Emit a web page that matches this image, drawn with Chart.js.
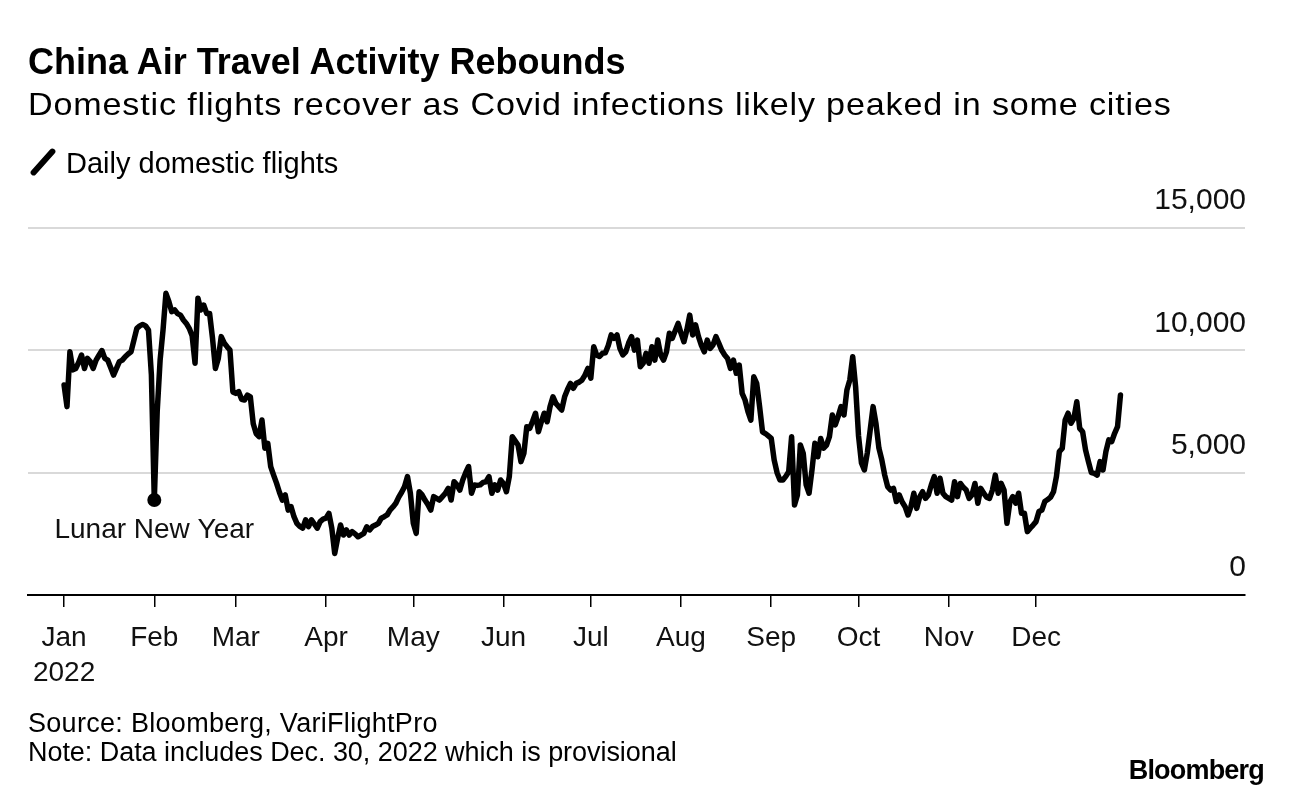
<!DOCTYPE html>
<html>
<head>
<meta charset="utf-8">
<script src="https://cdn.jsdelivr.net/npm/chart.js@4.4.1/dist/chart.umd.min.js"></script>
<style>
  html, body { margin: 0; padding: 0; background: #fff; }
  body { width: 1292px; height: 794px; position: relative; overflow: hidden;
         font-family: "Liberation Sans", Arial, sans-serif; color: #000; }
  #c { position: absolute; left: 0; top: 0; }
  .t { position: absolute; white-space: nowrap; line-height: 1; }
  #title { left: 28px; top: 44px; font-size: 36px; font-weight: bold; letter-spacing: 0; }
  #subtitle { left: 28px; top: 88px; font-size: 32px; letter-spacing: 0.8px;
              transform: scaleX(1.065); transform-origin: 0 50%; }
  #legend { left: 66px; top: 149px; font-size: 29px; }
  #legicon { position: absolute; left: 40px; top: 145px; width: 6px; height: 34px; background: #000;
             border-radius: 3px; transform: rotate(42deg); }
  #source { left: 28px; top: 710px; font-size: 27px; letter-spacing: 0.3px; }
  #note { left: 28px; top: 739px; font-size: 27px; letter-spacing: -0.05px; }
  #logo { right: 28px; top: 757px; font-size: 27px; font-weight: bold; letter-spacing: -0.8px; }
</style>
</head>
<body>
<canvas id="c" width="1292" height="794"></canvas>
<div class="t" id="title">China Air Travel Activity Rebounds</div>
<div class="t" id="subtitle">Domestic flights recover as Covid infections likely peaked in some cities</div>
<div id="legicon"></div>
<div class="t" id="legend">Daily domestic flights</div>
<div class="t" id="source">Source: Bloomberg, VariFlightPro</div>
<div class="t" id="note">Note: Data includes Dec. 30, 2022 which is provisional</div>
<div class="t" id="logo">Bloomberg</div>
<script>
// ---- data (day 0 = Jan 1, 2022; last value = Dec 30, 2022) ----
const monthTickDays = [0, 31, 59, 90, 120, 151, 181, 212, 243, 273, 304, 334];
const monthLabels = ['Jan', 'Feb', 'Mar', 'Apr', 'May', 'Jun', 'Jul', 'Aug', 'Sep', 'Oct', 'Nov', 'Dec'];
const yearLabel = '2022';
const yTickValues = [0, 5000, 10000, 15000];
const lunarNewYearDay = 31;
const lunarNewYearLabel = 'Lunar New Year';
const dailyFlights = [
  8580, 7700, 9940, 9200, 9260, 9500, 9810, 9260, 9670, 9540,
  9260, 9600, 9800, 9990, 9670, 9600, 9300, 8990, 9260, 9540,
  9600, 9740, 9850, 9940, 10420, 10900, 11000, 11060, 11000, 10830,
  9000, 3880, 7500, 9600, 10830, 12330, 12000, 11580, 11650, 11500,
  11440, 11240, 11100, 10900, 10600, 9470, 12130, 11650, 11850, 11510,
  11510, 10500, 9260, 9670, 10560, 10300, 10150, 10010, 8300, 8240,
  8310, 8000, 7970, 8170, 8100, 7000, 6600, 6470, 7150, 6000,
  6200, 5250, 4900, 4570, 4200, 3880, 4090, 3470, 3610, 3200,
  2930, 2800, 2730, 3070, 2790, 3070, 2900, 2730, 3000, 3100,
  3140, 3340, 2730, 1700, 2320, 2860, 2450, 2660, 2450, 2590,
  2500, 2380, 2450, 2520, 2790, 2660, 2800, 2860, 2930, 3140,
  3200, 3270, 3470, 3600, 3750, 4000, 4200, 4430, 4840, 4160,
  2930, 2520, 4220, 4100, 3880, 3700, 3470, 4020, 3950, 3880,
  4020, 4150, 4360, 3880, 4630, 4500, 4290, 4700, 5000, 5250,
  4160, 4500, 4480, 4500, 4600, 4630, 4840, 4160, 4500, 4290,
  4700, 4560, 4220, 4840, 6470, 6300, 6130, 5450, 5790, 6880,
  6810, 7100, 7430, 6670, 7080, 7430, 7080, 7700, 8100, 7830,
  7700, 7560, 8100, 8400, 8650, 8450, 8650, 8700, 8790, 8990,
  9260, 8860, 10150, 9810, 9750, 9880, 9900, 10200, 10630, 10490,
  10630, 10080, 9810, 9940, 10300, 10560, 10010, 10420, 9330, 9470,
  9880, 9470, 10150, 9600, 10420, 9810, 9600, 9940, 10700, 10490,
  10800, 11100, 10700, 10350, 10830, 11440, 10630, 11040, 10560, 10200,
  9940, 10420, 10080, 10220, 10560, 10290, 10000, 9810, 9670, 9260,
  9600, 9060, 9400, 8240, 7970, 7500, 7150, 8920, 8650, 7700,
  6670, 6600, 6500, 6400, 5520, 5000, 4700, 4700, 4850, 5040,
  6470, 3680, 4090, 6130, 5790, 4500, 4160, 5110, 6200, 5650,
  6400, 6000, 6130, 6470, 7360, 6950, 7300, 7700, 7360, 8380,
  8790, 9740, 8500, 6500, 5400, 5110, 5800, 6740, 7700, 7000,
  6000, 5520, 4900, 4430, 4290, 4360, 3820, 4090, 3800, 3610,
  3270, 3610, 4160, 3540, 4000, 4220, 3950, 4090, 4500, 4840,
  4160, 4770, 4160, 4020, 3950, 3880, 4630, 4020, 4560, 4400,
  4290, 3950, 4100, 4560, 3750, 4360, 4160, 4000, 3950, 4290,
  4900, 4160, 4560, 4290, 2930, 3800, 4020, 3750, 4160, 3340,
  3340, 2590, 2730, 2860, 3000, 3410, 3470, 3820, 3900, 4000,
  4220, 4840, 5860, 5990, 7150, 7430, 7020, 7220, 7900, 6810,
  6670, 5930, 5450, 5000, 4970, 4900, 5450, 5110, 5860, 6340,
  6270, 6610, 6880, 8170
];

const points = dailyFlights.map((v, i) => ({ x: i, y: v }));
const FONT = '"Liberation Sans", Arial, sans-serif';
Chart.defaults.font.family = FONT;
Chart.defaults.color = '#111';

const overlay = {
  id: 'overlay',
  afterDraw(chart) {
    const { ctx, scales } = chart;
    const xs = scales.x, ys = scales.y;
    ctx.save();
    ctx.fillStyle = '#111';
    ctx.font = '30px ' + FONT;
    ctx.textAlign = 'right';
    ctx.textBaseline = 'middle';
    yTickValues.forEach(v => {
      ctx.fillText(v.toLocaleString('en-US'), chart.chartArea.right + 1, ys.getPixelForValue(v) - 27);
    });
    ctx.font = '28px ' + FONT;
    ctx.textAlign = 'center';
    const px = xs.getPixelForValue(lunarNewYearDay);
    const py = ys.getPixelForValue(dailyFlights[lunarNewYearDay]);
    ctx.fillText(lunarNewYearLabel, px, py + 30);
    ctx.restore();
  }
};

new Chart(document.getElementById('c'), {
  type: 'line',
  data: {
    datasets: [{
      data: points,
      borderColor: '#000',
      borderWidth: 5.5,
      borderJoinStyle: 'round',
      borderCapStyle: 'round',
      tension: 0,
      pointRadius: ctx => ctx.dataIndex === lunarNewYearDay ? 7 : 0,
      pointBackgroundColor: '#000',
      pointBorderWidth: 0,
      pointHoverRadius: 0
    }]
  },
  options: {
    responsive: false,
    animation: false,
    devicePixelRatio: 1,
    layout: { padding: { left: 28, right: 47, top: 228, bottom: 109 } },
    plugins: { legend: { display: false }, tooltip: { enabled: false } },
    scales: {
      x: {
        type: 'linear',
        min: -12.4,
        max: 405.8,
        afterBuildTicks: s => { s.ticks = monthTickDays.map(v => ({ value: v })); },
        afterFit: s => { s.height = 90; },
        ticks: {
          autoSkip: false,
          maxRotation: 0,
          padding: 14,
          color: '#111',
          font: { size: 28, lineHeight: 1.25 },
          callback: v => {
            const i = monthTickDays.indexOf(v);
            return i === 0 ? [monthLabels[0], yearLabel] : monthLabels[i];
          }
        },
        grid: { drawOnChartArea: false, drawTicks: true, tickLength: 12, color: '#000', lineWidth: 1.5 },
        border: { display: true, color: '#000', width: 2 }
      },
      y: {
        position: 'right',
        min: 0,
        max: 15000,
        afterBuildTicks: s => { s.ticks = yTickValues.map(v => ({ value: v })); },
        afterFit: s => { s.width = 0; },
        ticks: { display: false },
        grid: {
          drawTicks: false,
          lineWidth: 2,
          color: c => (c.tick && c.tick.value === 0) ? 'rgba(0,0,0,0)' : '#d9d9d9'
        },
        border: { display: false }
      }
    }
  },
  plugins: [overlay]
});
</script>
</body>
</html>
